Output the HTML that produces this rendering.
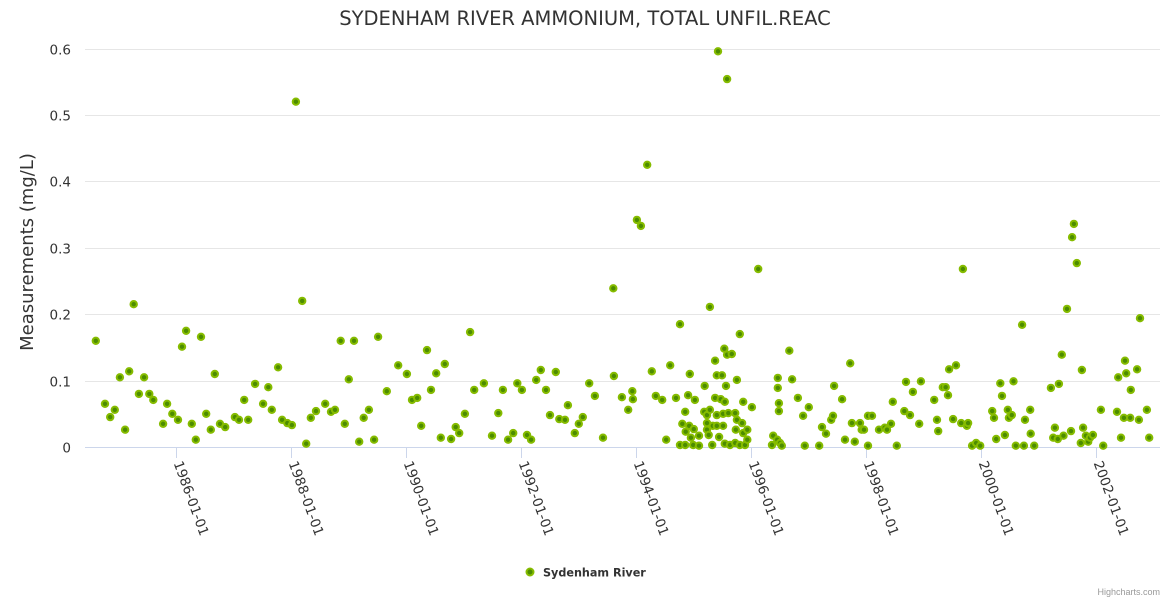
<!DOCTYPE html>
<html><head><meta charset="utf-8"><style>
body{margin:0;background:#fff;}
svg{display:block;font-family:"Liberation Sans",sans-serif;}
</style></head><body>
<svg id="chart" width="1170" height="600" xmlns="http://www.w3.org/2000/svg">
<rect width="1170" height="600" fill="#fff"/>
<text x="585" y="25" text-anchor="middle" font-size="19.5" fill="#333" style="font-family:'DejaVu Sans',sans-serif">SYDENHAM RIVER AMMONIUM, TOTAL UNFIL.REAC</text>
<text transform="translate(33,252) rotate(-90)" text-anchor="middle" font-size="18" fill="#333" style="font-family:'DejaVu Sans',sans-serif">Measurements (mg/L)</text>
<g id="grid"></g>
<g id="xaxis"></g>
<g id="yaxis"></g>
<g id="points"></g>
<g>
<circle cx="530" cy="572" r="3.5" fill="#4c8c00" stroke="#86bc00" stroke-width="2"/>
<text x="543" y="576.5" font-size="11.2" font-weight="bold" fill="#333" style="font-family:'DejaVu Sans',sans-serif">Sydenham River</text>
</g>
<text x="1160" y="595" text-anchor="end" font-size="9" fill="#999">Highcharts.com</text>
</svg>
<script>
const yTicks = [0, 0.1, 0.2, 0.3, 0.4, 0.5, 0.6];
const xTickYears = [1986, 1988, 1990, 1992, 1994, 1996, 1998, 2000, 2002];
const dates = [1984.60,1984.76,1984.85,1984.93,1985.02,1985.11,1985.18,1985.26,1985.35,1985.44,1985.53,1985.60,1985.77,1985.84,1985.93,1986.03,1986.10,1986.17,1986.27,1986.34,1986.43,1986.52,1986.60,1986.67,1986.76,1986.85,1987.02,1987.09,1987.18,1987.25,1987.37,1987.51,1987.60,1987.66,1987.77,1987.84,1987.93,1988.01,1988.08,1988.19,1988.26,1988.34,1988.43,1988.59,1988.69,1988.76,1988.86,1988.93,1989.00,1989.09,1989.18,1989.26,1989.35,1989.44,1989.51,1989.66,1989.86,1990.01,1990.10,1990.19,1990.26,1990.36,1990.43,1990.52,1990.60,1990.67,1990.78,1990.86,1990.92,1991.02,1991.11,1991.18,1991.35,1991.49,1991.60,1991.68,1991.77,1991.86,1991.93,1992.01,1992.10,1992.17,1992.26,1992.34,1992.43,1992.50,1992.60,1992.66,1992.76,1992.81,1992.93,1993.00,1993.07,1993.18,1993.28,1993.42,1993.60,1993.61,1993.75,1993.86,1993.93,1993.94,1994.01,1994.08,1994.19,1994.27,1994.34,1994.45,1994.52,1994.59,1994.69,1994.76,1994.76,1994.80,1994.85,1994.85,1994.86,1994.90,1994.92,1994.93,1994.95,1994.99,1995.00,1995.02,1995.09,1995.09,1995.18,1995.19,1995.23,1995.23,1995.23,1995.26,1995.28,1995.28,1995.32,1995.33,1995.37,1995.37,1995.40,1995.40,1995.40,1995.42,1995.44,1995.47,1995.49,1995.51,1995.51,1995.53,1995.54,1995.54,1995.56,1995.58,1995.58,1995.60,1995.63,1995.66,1995.72,1995.72,1995.73,1995.75,1995.75,1995.80,1995.80,1995.84,1995.86,1995.86,1995.89,1995.93,1995.93,1996.01,1996.12,1996.36,1996.38,1996.45,1996.46,1996.46,1996.48,1996.48,1996.50,1996.53,1996.66,1996.71,1996.81,1996.90,1996.93,1997.00,1997.18,1997.23,1997.30,1997.39,1997.42,1997.44,1997.58,1997.63,1997.72,1997.75,1997.80,1997.89,1997.92,1997.96,1998.03,1998.03,1998.10,1998.22,1998.32,1998.36,1998.43,1998.46,1998.53,1998.66,1998.69,1998.76,1998.81,1998.92,1998.95,1999.18,1999.23,1999.25,1999.33,1999.38,1999.42,1999.44,1999.51,1999.56,1999.65,1999.68,1999.75,1999.77,1999.84,1999.91,1999.98,2000.19,2000.22,2000.26,2000.33,2000.36,2000.41,2000.46,2000.48,2000.53,2000.56,2000.60,2000.71,2000.74,2000.76,2000.85,2000.86,2000.92,2001.21,2001.25,2001.28,2001.33,2001.35,2001.40,2001.43,2001.49,2001.56,2001.58,2001.61,2001.66,2001.73,2001.75,2001.77,2001.82,2001.86,2001.89,2001.94,2002.08,2002.12,2002.36,2002.38,2002.43,2002.48,2002.50,2002.52,2002.59,2002.60,2002.71,2002.74,2002.76,2002.88,2002.92];
const values = [0.160,0.065,0.045,0.056,0.105,0.026,0.114,0.215,0.080,0.105,0.080,0.071,0.035,0.065,0.050,0.041,0.151,0.175,0.035,0.011,0.166,0.050,0.026,0.110,0.035,0.030,0.045,0.041,0.071,0.041,0.095,0.065,0.090,0.056,0.120,0.041,0.036,0.033,0.520,0.220,0.005,0.044,0.054,0.065,0.053,0.056,0.160,0.035,0.102,0.160,0.008,0.044,0.056,0.011,0.166,0.084,0.123,0.110,0.071,0.074,0.032,0.146,0.086,0.111,0.014,0.125,0.012,0.030,0.021,0.050,0.173,0.086,0.096,0.017,0.051,0.086,0.011,0.021,0.096,0.086,0.018,0.011,0.101,0.116,0.086,0.048,0.113,0.042,0.041,0.063,0.021,0.035,0.045,0.096,0.077,0.014,0.239,0.107,0.075,0.056,0.084,0.072,0.342,0.333,0.425,0.114,0.077,0.071,0.011,0.123,0.074,0.185,0.003,0.035,0.053,0.003,0.023,0.078,0.032,0.110,0.014,0.003,0.027,0.071,0.017,0.002,0.053,0.092,0.048,0.036,0.026,0.018,0.056,0.211,0.003,0.032,0.130,0.074,0.108,0.048,0.032,0.596,0.015,0.072,0.108,0.050,0.032,0.148,0.068,0.005,0.092,0.554,0.139,0.051,0.003,0.140,0.051,0.006,0.026,0.101,0.041,0.170,0.003,0.036,0.068,0.021,0.003,0.026,0.011,0.060,0.268,0.003,0.017,0.011,0.104,0.089,0.066,0.054,0.006,0.002,0.145,0.102,0.074,0.047,0.002,0.060,0.002,0.030,0.020,0.041,0.047,0.092,0.072,0.011,0.126,0.036,0.008,0.036,0.026,0.026,0.002,0.047,0.047,0.026,0.029,0.026,0.035,0.068,0.002,0.054,0.098,0.048,0.083,0.035,0.099,0.071,0.041,0.024,0.090,0.090,0.078,0.117,0.042,0.123,0.036,0.268,0.032,0.036,0.002,0.006,0.002,0.054,0.044,0.012,0.096,0.077,0.018,0.056,0.044,0.048,0.099,0.002,0.184,0.002,0.041,0.056,0.020,0.002,0.089,0.014,0.029,0.012,0.095,0.139,0.017,0.208,0.024,0.316,0.336,0.277,0.006,0.116,0.029,0.017,0.008,0.014,0.018,0.056,0.002,0.053,0.105,0.014,0.044,0.130,0.111,0.044,0.086,0.117,0.041,0.194,0.056,0.014];

const NS = "http://www.w3.org/2000/svg";
const plotL = 85, plotR = 1160, y0px = 447, pxPerUnit = 664;
const x0px = 176.3, pxPerYear = 57.5;
function xScale(t){ return x0px + (t - 1986) * pxPerYear; }
function yScale(v){ return y0px - v * pxPerUnit; }

const grid = document.getElementById('grid');
const yaxis = document.getElementById('yaxis');
const xaxis = document.getElementById('xaxis');
const pts = document.getElementById('points');

yTicks.forEach(v => {
  const y = Math.round(yScale(v)) + 0.5;
  if (v > 0) {
    const l = document.createElementNS(NS, 'line');
    l.setAttribute('x1', plotL); l.setAttribute('x2', plotR);
    l.setAttribute('y1', y); l.setAttribute('y2', y);
    l.setAttribute('stroke', '#e6e6e6');
    
    
    grid.appendChild(l);
  }
  const t = document.createElementNS(NS, 'text');
  t.setAttribute('x', 71); t.setAttribute('y', y + 5);
  t.setAttribute('text-anchor', 'end');
  t.setAttribute('font-size', '13.5'); t.setAttribute('fill', '#333');
  t.setAttribute('style', "font-family:'DejaVu Sans',sans-serif");
  t.textContent = v === 0 ? '0' : String(v);
  
  
  yaxis.appendChild(t);
});

const axisLine = document.createElementNS(NS, 'line');
axisLine.setAttribute('x1', plotL); axisLine.setAttribute('x2', plotR);
axisLine.setAttribute('y1', 447.5); axisLine.setAttribute('y2', 447.5);
axisLine.setAttribute('stroke', '#ccd6eb');


xaxis.appendChild(axisLine);

xTickYears.forEach(yr => {
  const x = Math.round(xScale(yr)) + 0.5;
  const tk = document.createElementNS(NS, 'line');
  tk.setAttribute('x1', x); tk.setAttribute('x2', x);
  tk.setAttribute('y1', 447); tk.setAttribute('y2', 458);
  tk.setAttribute('stroke', '#ccd6eb');
  
  
  xaxis.appendChild(tk);
  const t = document.createElementNS(NS, 'text');
  t.setAttribute('transform', 'translate(' + (x - 3) + ',463) rotate(70)');
  t.setAttribute('font-size', '13.5'); t.setAttribute('fill', '#333');
  t.setAttribute('style', "font-family:'DejaVu Sans',sans-serif");
  t.textContent = yr + '-01-01';
  
  
  xaxis.appendChild(t);
});

dates.forEach((d, i) => {
  const c = document.createElementNS(NS, 'circle');
  c.setAttribute('cx', xScale(d).toFixed(1));
  c.setAttribute('cy', yScale(values[i]).toFixed(1));
  c.setAttribute('r', 3.2);
  c.setAttribute('fill', '#4c8c00');
  c.setAttribute('stroke', '#86bc00');
  c.setAttribute('stroke-width', 2);
  
  
  pts.appendChild(c);
});
</script>
</body></html>
